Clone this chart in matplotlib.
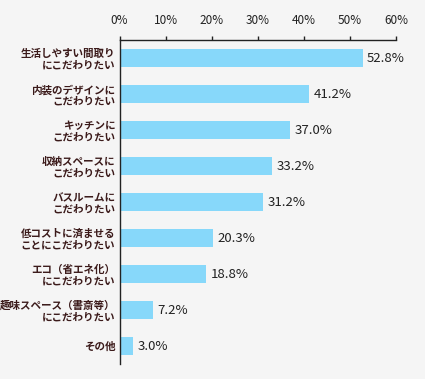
import matplotlib
matplotlib.use("Agg")
import matplotlib.pyplot as plt

categories = [
    "生活しやすい間取り\nにこだわりたい",
    "内装のデザインに\nこだわりたい",
    "キッチンに\nこだわりたい",
    "収納スペースに\nこだわりたい",
    "バスルームに\nこだわりたい",
    "低コストに済ませる\nことにこだわりたい",
    "エコ（省エネ化）\nにこだわりたい",
    "趣味スペース（書斎等）\nにこだわりたい",
    "その他",
]
values = [52.8, 41.2, 37.0, 33.2, 31.2, 20.3, 18.8, 7.2, 3.0]
xticks = [0, 10, 20, 30, 40, 50, 60]

plt.rcParams['font.family'] = ['Noto Sans CJK JP', 'DejaVu Sans']

fig = plt.figure(figsize=(4.25, 3.79), dpi=100)
fig.patch.set_facecolor('#f5f5f5')
ax = fig.add_axes([119.5/425, 1-364/379, (396-119.5)/425, (364-40)/379])
ax.set_facecolor('#f5f5f5')

ypos = list(range(len(categories)))
ax.barh(ypos, values, height=0.5, color='#87d8fa')
ax.set_ylim(len(categories)-0.5, -0.5)
ax.set_xlim(0, 60)
ax.set_yticks(ypos)
ax.set_yticklabels(categories, fontsize=7.6, fontweight='bold', color='#3b1a1a', linespacing=1.15)
ax.tick_params(axis='y', length=0, pad=3)
ax.xaxis.tick_top()
ax.set_xticks(xticks)
ax.set_xticklabels([f"{t}%" for t in xticks], fontsize=8.5, color='#222222')
ax.tick_params(axis='x', direction='out', length=3, width=1, color='#222222', pad=6)
for s in ['right', 'bottom']:
    ax.spines[s].set_visible(False)
for s in ['left', 'top']:
    ax.spines[s].set_color('#222222')
    ax.spines[s].set_linewidth(1)

for y, v in zip(ypos, values):
    ax.text(v + 0.9, y, f"{v:.1f}%", va='center', ha='left', fontsize=9.5, color='#222222')

fig.savefig('out.png', dpi=100, facecolor=fig.get_facecolor())
